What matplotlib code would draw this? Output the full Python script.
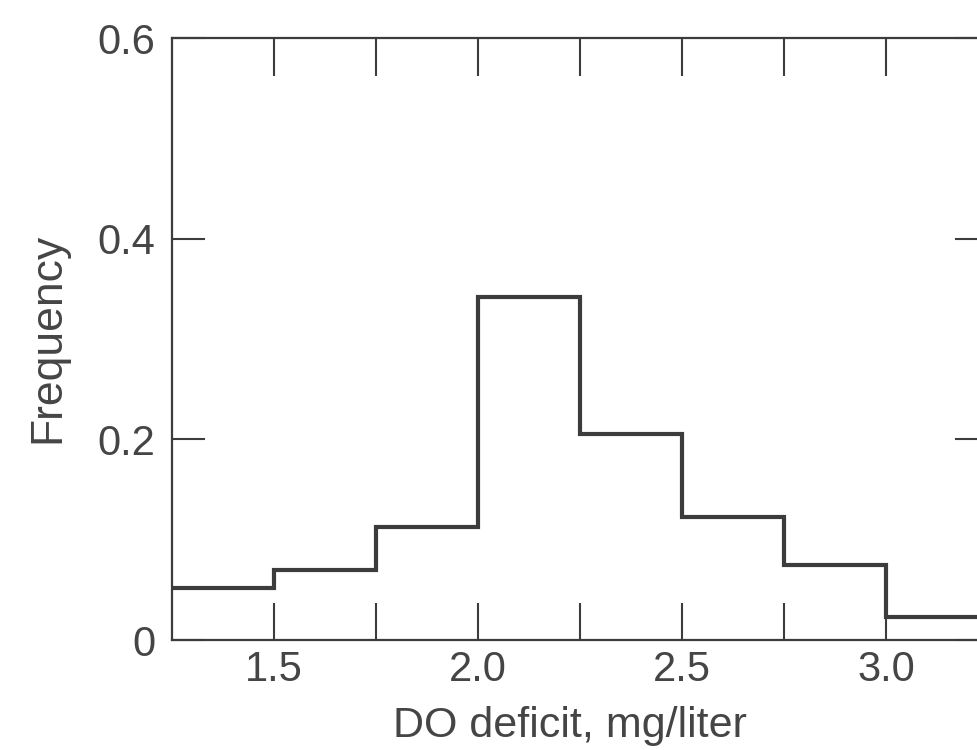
import numpy as np
import matplotlib
matplotlib.use("Agg")
import matplotlib.pyplot as plt

plt.rcParams['font.family'] = ['Liberation Sans', 'DejaVu Sans']

# histogram of DO deficit, bin width 0.25 mg/liter
bin_edges = [1.25, 1.5, 1.75, 2.0, 2.25, 2.5, 2.75, 3.0, 3.25]
frequency = [0.052, 0.070, 0.113, 0.342, 0.205, 0.123, 0.075, 0.023]

x_ticks = [1.5, 1.75, 2.0, 2.25, 2.5, 2.75, 3.0]
x_tick_labels = ["1.5", "", "2.0", "", "2.5", "", "3.0"]
y_ticks = [0, 0.2, 0.4, 0.6]
y_tick_labels = ["0", "0.2", "0.4", "0.6"]

ink = '#3c3c3c'
text_col = '#454545'

fig = plt.figure(figsize=(9.77, 7.5), dpi=100)
# right spine sits just past the image edge, like the cropped scan
ax = fig.add_axes([172 / 977, 110 / 750, (988 - 172) / 977, 602 / 750])

ax.stairs(frequency, bin_edges, baseline=None, color=ink, linewidth=3.0)

ax.set_xlim(bin_edges[0], bin_edges[-1])
ax.set_ylim(0, 0.6)

ax.set_xticks(x_ticks)
ax.set_xticklabels(x_tick_labels)
ax.set_yticks(y_ticks)
ax.set_yticklabels(y_tick_labels)

ax.tick_params(axis='x', direction='in', top=True, bottom=True, length=27,
               width=1.5, color=ink, labelsize=30, labelcolor=text_col, pad=7)
ax.tick_params(axis='y', direction='in', left=True, right=True, length=24,
               width=1.5, color=ink, labelsize=30, labelcolor=text_col, pad=12)

for side in ax.spines.values():
    side.set_color(ink)
    side.set_linewidth(1.6)

ax.set_xlabel('DO deficit, mg/liter', fontsize=31, color=text_col)
ax.set_ylabel('Frequency', fontsize=32, color=text_col)
ax.xaxis.set_label_coords(0.488, -0.11)
ax.yaxis.set_label_coords(-0.127, 0.502)

plt.savefig("out.png", dpi=100)
